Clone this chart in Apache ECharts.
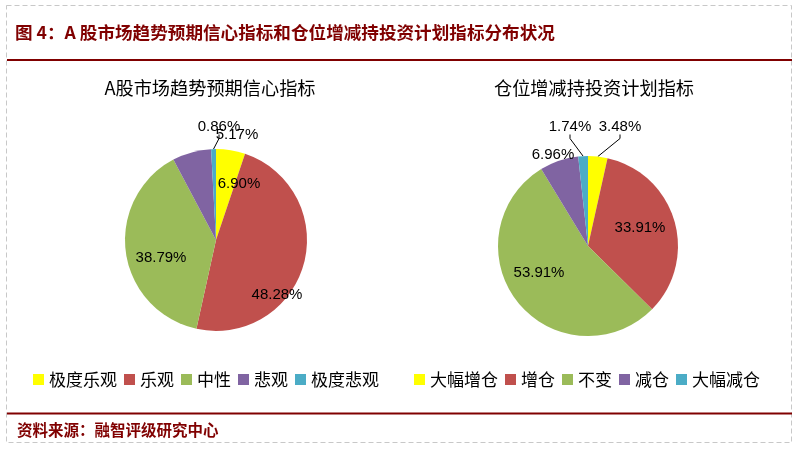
<!DOCTYPE html>
<html><head><meta charset="utf-8">
<script src="https://cdn.jsdelivr.net/npm/echarts@6/dist/echarts.min.js"></script>
<style>html,body{margin:0;padding:0;background:#fff}#c{width:798px;height:450px}</style>
</head><body><div id="c"></div>
<script>
const chartTitle = '图 4：A 股市场趋势预期信心指标和仓位增减持投资计划指标分布状况';
const sourceText = '资料来源：融智评级研究中心';
const pie1Title = 'A股市场趋势预期信心指标';
const pie1Categories = ['极度乐观', '乐观', '中性', '悲观', '极度悲观'];
const pie1Values = [5.17, 48.28, 38.79, 6.90, 0.86];
const pie2Title = '仓位增减持投资计划指标';
const pie2Categories = ['大幅增仓', '增仓', '不变', '减仓', '大幅减仓'];
const pie2Values = [3.48, 33.91, 53.91, 6.96, 1.74];

const sliceColors = ['#FFFF00', '#C0504D', '#9BBB59', '#8064A2', '#4BACC6'];
// label placement (label centre) and leader-line flags
const pie1LabelAt = [[237, 135], [277, 295], [161, 258], [239, 184], [219, 127]];
const pie1Leader = [false, false, false, false, true];
const pie2LabelAt = [[620, 127], [640, 228], [539, 273], [553, 155], [570, 127]];
const pie2Leader = [true, false, false, false, true];

const DARK_RED = '#800000';
const CJK = '"Noto Sans CJK SC", "Noto Sans", sans-serif';
const NUM = '"Liberation Sans", Arial, sans-serif';

function buildData(cats, vals, leaders) {
  return cats.map((n, i) => ({
    name: n, value: vals[i],
    itemStyle: { color: sliceColors[i] },
    labelLine: { show: leaders[i] }
  }));
}
function pieSeries(cats, vals, leaders, labelAt, center, radius) {
  return {
    type: 'pie',
    center: center,
    radius: radius,
    startAngle: 90,
    clockwise: true,
    avoidLabelOverlap: false,
    animation: false,
    itemStyle: { borderWidth: 0 },
    emphasis: { disabled: true },
    label: {
      show: true, position: 'outside', color: '#000', fontSize: 15, fontFamily: NUM,
      formatter: p => p.value.toFixed(2) + '%'
    },
    labelLine: { show: true, length: 6, length2: 4, smooth: false, lineStyle: { color: '#000', width: 1 } },
    labelLayout: function (params) {
      const p = labelAt[params.dataIndex];
      return { x: p[0], y: p[1], align: 'center', verticalAlign: 'middle' };
    },
    data: buildData(cats, vals, leaders)
  };
}

const chart = echarts.init(document.getElementById('c'), null, { renderer: 'canvas' });
chart.setOption({
  backgroundColor: '#fff',
  animation: false,
  title: [
    { text: chartTitle, left: 15, top: 24, padding: 0, textStyle: { color: DARK_RED, fontSize: 17.6, fontWeight: 'bold', fontFamily: CJK } },
    { text: pie1Title, left: 210, top: 79, padding: 0, textAlign: 'center', textStyle: { color: '#000', fontSize: 18.2, fontWeight: 'normal', fontFamily: CJK } },
    { text: pie2Title, left: 594, top: 79, padding: 0, textAlign: 'center', textStyle: { color: '#000', fontSize: 18.2, fontWeight: 'normal', fontFamily: CJK } },
    { text: sourceText, left: 17, top: 422, padding: 0, textStyle: { color: DARK_RED, fontSize: 15.5, fontWeight: 'bold', fontFamily: CJK } }
  ],
  legend: [
    {
      data: pie1Categories, left: 33, top: 371, padding: 0, itemWidth: 11, itemHeight: 11, itemGap: 7,
      icon: 'rect', selectedMode: false,
      textStyle: { color: '#000', fontSize: 17, fontFamily: CJK }
    },
    {
      data: pie2Categories, left: 414, top: 371, padding: 0, itemWidth: 11, itemHeight: 11, itemGap: 7,
      icon: 'rect', selectedMode: false,
      textStyle: { color: '#000', fontSize: 17, fontFamily: CJK }
    }
  ],
  graphic: [
    { type: 'rect', shape: { x: 6.5, y: 5.5, width: 785, height: 437 }, style: { fill: 'none', stroke: '#C8C8C8', lineWidth: 1, lineDash: [5, 3] }, silent: true },
    { type: 'line', shape: { x1: 7, y1: 60, x2: 792, y2: 60 }, style: { stroke: DARK_RED, lineWidth: 2 }, silent: true },
    { type: 'line', shape: { x1: 7, y1: 413.5, x2: 792, y2: 413.5 }, style: { stroke: DARK_RED, lineWidth: 2 }, silent: true }
  ],
  series: [
    pieSeries(pie1Categories, pie1Values, pie1Leader, pie1LabelAt, [216, 240], 91),
    pieSeries(pie2Categories, pie2Values, pie2Leader, pie2LabelAt, [588, 246], 90)
  ]
});
</script>
</body></html>
